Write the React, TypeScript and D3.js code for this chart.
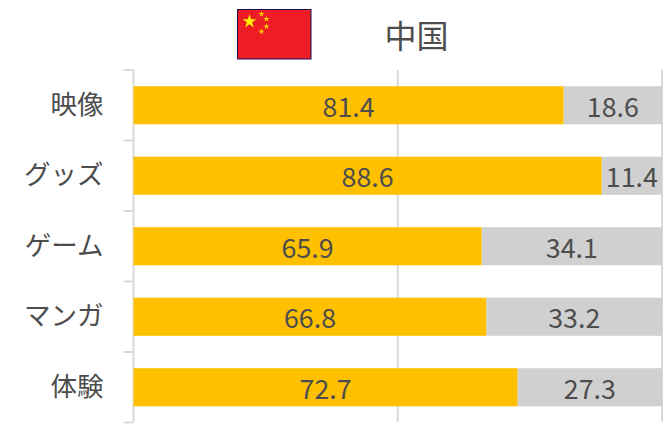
import { useRef, useEffect } from "react";
import * as d3 from "d3";

const categories = ["映像", "グッズ", "ゲーム", "マンガ", "体験"];
const yesValues = [81.4, 88.6, 65.9, 66.8, 72.7];
const noValues = [18.6, 11.4, 34.1, 33.2, 27.3];
const xTicks = [0, 50, 100];
const title = "中国";

const width = 669;
const height = 424;
const font = "'Noto Sans CJK JP', 'Noto Sans', sans-serif";
const textColor = "#4d4d4d";

export default function App() {
  const svgRef = useRef<SVGSVGElement>(null);

  useEffect(() => {
    const svg = d3.select(svgRef.current);
    svg.selectAll("*").remove();

    const x = d3.scaleLinear().domain([0, 100]).range([133.5, 662]);
    const y = d3.scaleBand().domain(categories).range([70, 422.5]).paddingInner(0.46).paddingOuter(0.23);

    // grid
    svg.append("g")
      .selectAll("line")
      .data(xTicks)
      .enter()
      .append("line")
      .attr("x1", d => x(d))
      .attr("x2", d => x(d))
      .attr("y1", 70)
      .attr("y2", 422)
      .attr("stroke", "#d9d9d9")
      .attr("stroke-width", 2);

    // category axis
    const axis = svg.append("g")
      .attr("transform", `translate(${x(0)},0)`)
      .call(d3.axisLeft(y).tickSize(0).tickPadding(30));
    axis.select(".domain").remove();
    axis.selectAll(".tick text")
      .attr("fill", textColor)
      .attr("font-family", font)
      .attr("font-size", "26.5px");

    // tick marks sit between the categories
    const step = y.step();
    svg.append("g")
      .selectAll("line")
      .data(d3.range(categories.length + 1))
      .enter()
      .append("line")
      .attr("x1", x(0) - 10)
      .attr("x2", x(0))
      .attr("y1", i => 70 + i * step)
      .attr("y2", i => 70 + i * step)
      .attr("stroke", "#d9d9d9")
      .attr("stroke-width", 2);

    // bars
    svg.append("g")
      .selectAll("rect")
      .data(categories)
      .enter()
      .append("rect")
      .attr("x", x(0))
      .attr("y", d => y(d)!)
      .attr("width", (_, i) => x(yesValues[i]) - x(0))
      .attr("height", y.bandwidth())
      .attr("fill", "#ffc000");

    svg.append("g")
      .selectAll("rect")
      .data(categories)
      .enter()
      .append("rect")
      .attr("x", (_, i) => x(yesValues[i]))
      .attr("y", d => y(d)!)
      .attr("width", (_, i) => x(yesValues[i] + noValues[i]) - x(yesValues[i]))
      .attr("height", y.bandwidth())
      .attr("fill", "#d0d0d0");

    // value labels
    const labels = svg.append("g")
      .attr("fill", textColor)
      .attr("font-family", font)
      .attr("font-size", "26.8px")
      .attr("text-anchor", "middle")
      .attr("dominant-baseline", "central");

    labels.selectAll(".yes")
      .data(categories)
      .enter()
      .append("text")
      .attr("class", "yes")
      .attr("x", (_, i) => x(yesValues[i] / 2))
      .attr("y", d => y(d)! + y.bandwidth() / 2)
      .text((_, i) => yesValues[i].toFixed(1));

    labels.selectAll(".no")
      .data(categories)
      .enter()
      .append("text")
      .attr("class", "no")
      .attr("x", (_, i) => x(yesValues[i] + noValues[i] / 2))
      .attr("y", d => y(d)! + y.bandwidth() / 2)
      .text((_, i) => noValues[i].toFixed(1));

    // title
    svg.append("text")
      .attr("x", 416.5)
      .attr("y", 47.5)
      .attr("text-anchor", "middle")
      .attr("fill", textColor)
      .attr("font-family", font)
      .attr("font-size", "32px")
      .text(title);

    // flag
    const flag = svg.append("g").attr("transform", "translate(237,9)");
    flag.append("rect")
      .attr("x", 0.5)
      .attr("y", 0.5)
      .attr("width", 73.5)
      .attr("height", 49.5)
      .attr("fill", "#ee1c25")
      .attr("stroke", "#1a1050")
      .attr("stroke-width", 1);

    const star = d3.symbol().type(d3.symbolStar);
    flag.append("path")
      .attr("d", star.size(60)())
      .attr("transform", "translate(12.5,12.5)")
      .attr("fill", "#ffee00");

    flag.selectAll(".small")
      .data([[24.5, 5], [29.5, 10], [29.5, 17.5], [24.5, 22.5]])
      .enter()
      .append("path")
      .attr("class", "small")
      .attr("d", star.size(12)())
      .attr("transform", d => `translate(${d[0]},${d[1]})`)
      .attr("fill", "#ffcc00");
  }, []);

  return (
    <svg
      ref={svgRef}
      width={width}
      height={height}
      style={{ position: "absolute", left: 0, top: 0, display: "block", background: "#fff" }}
    ></svg>
  );
}
